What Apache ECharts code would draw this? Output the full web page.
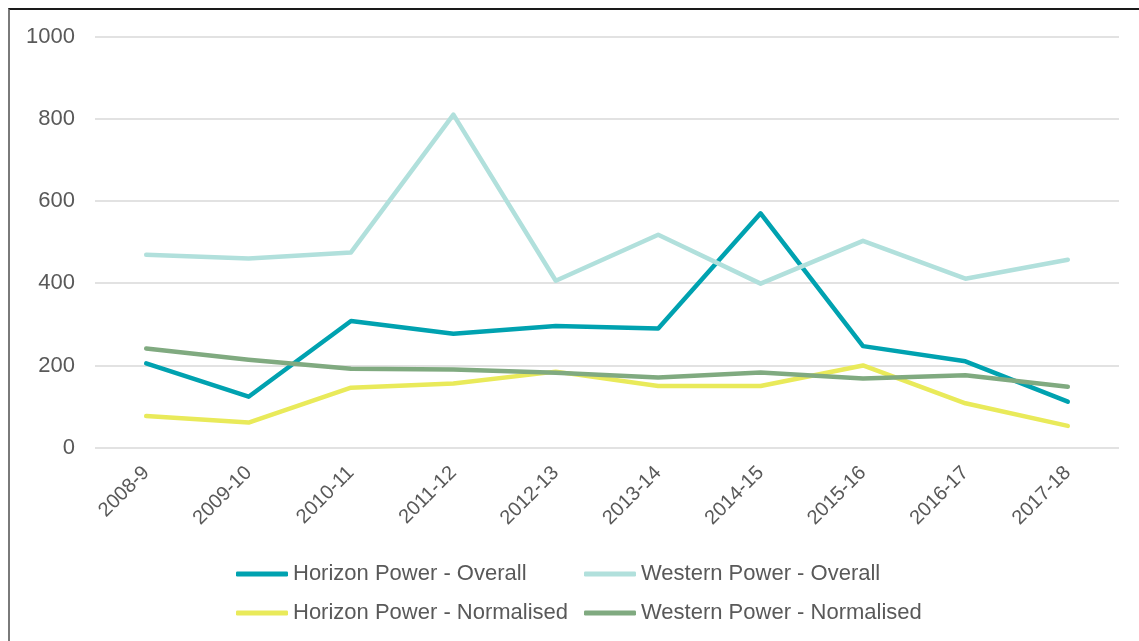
<!DOCTYPE html>
<html>
<head>
<meta charset="utf-8">
<script src="https://cdn.jsdelivr.net/npm/echarts@6/dist/echarts.min.js"></script>
<style>
  html, body { margin: 0; padding: 0; background: #fff; overflow: hidden; }
  #frame { position: absolute; left: 8px; top: 8px; width: 1200px; height: 700px;
           border-top: 2px solid #1a1a1a; border-left: 2px solid #7a7a7a; }
  #chart { position: absolute; left: 0; top: 0; width: 1139px; height: 641px; }
</style>
</head>
<body>
<div id="frame"></div>
<div id="chart"></div>
<script>
var years = ['2008-9', '2009-10', '2010-11', '2011-12', '2012-13', '2013-14', '2014-15', '2015-16', '2016-17', '2017-18'];
var horizonOverall = [205, 124, 308, 277, 296, 290, 570, 247, 210, 112];
var westernOverall = [469, 460, 475, 810, 406, 518, 399, 503, 411, 457];
var horizonNormalised = [77, 61, 146, 156, 185, 150, 150, 200, 108, 53];
var westernNormalised = [241, 214, 192, 190, 182, 171, 183, 168, 176, 148];

var FONT = 'Liberation Sans, Arial, sans-serif';
var myChart = echarts.init(document.getElementById('chart'));

function line(name, data, color) {
    return {
        name: name,
        type: 'line',
        data: data,
        symbol: 'none',
        lineStyle: { color: color, width: 4.5, cap: 'round', join: 'round' },
        itemStyle: { color: color }
    };
}

// one legend per item so the two columns line up like the original
function legendItem(left, top, name) {
    return {
        left: left,
        top: top,
        padding: 0,
        itemWidth: 52,
        itemHeight: 5,
        itemTextGap: 1,
        icon: 'roundRect',
        data: [name],
        textStyle: { color: '#595959', fontSize: 22, fontFamily: FONT }
    };
}

var option = {
    animation: false,
    grid: { left: 95, right: 20, top: 36.5, bottom: 193.3 },
    legend: [
        legendItem(236, 563, 'Horizon Power - Overall'),
        legendItem(584, 563, 'Western Power - Overall'),
        legendItem(236, 602, 'Horizon Power - Normalised'),
        legendItem(584, 602, 'Western Power - Normalised')
    ],
    xAxis: {
        type: 'category',
        data: years,
        axisLine: { show: false },
        axisTick: { show: false },
        axisLabel: {
            interval: 0,
            rotate: 45,
            margin: 22,
            color: '#595959',
            fontSize: 20,
            fontFamily: FONT
        }
    },
    yAxis: {
        type: 'value',
        min: 0,
        max: 1000,
        interval: 200,
        axisLine: { show: false },
        axisTick: { show: false },
        axisLabel: {
            margin: 20,
            color: '#595959',
            fontSize: 22,
            fontFamily: FONT,
            formatter: function (v) { return String(v); }
        },
        splitLine: { lineStyle: { color: '#d9d9d9', width: 1.5 } }
    },
    series: [
        line('Horizon Power - Overall', horizonOverall, '#00a2b0'),
        line('Western Power - Overall', westernOverall, '#b1e0dc'),
        line('Horizon Power - Normalised', horizonNormalised, '#e9ea5a'),
        line('Western Power - Normalised', westernNormalised, '#80aa80')
    ]
};
myChart.setOption(option);
</script>
</body>
</html>
